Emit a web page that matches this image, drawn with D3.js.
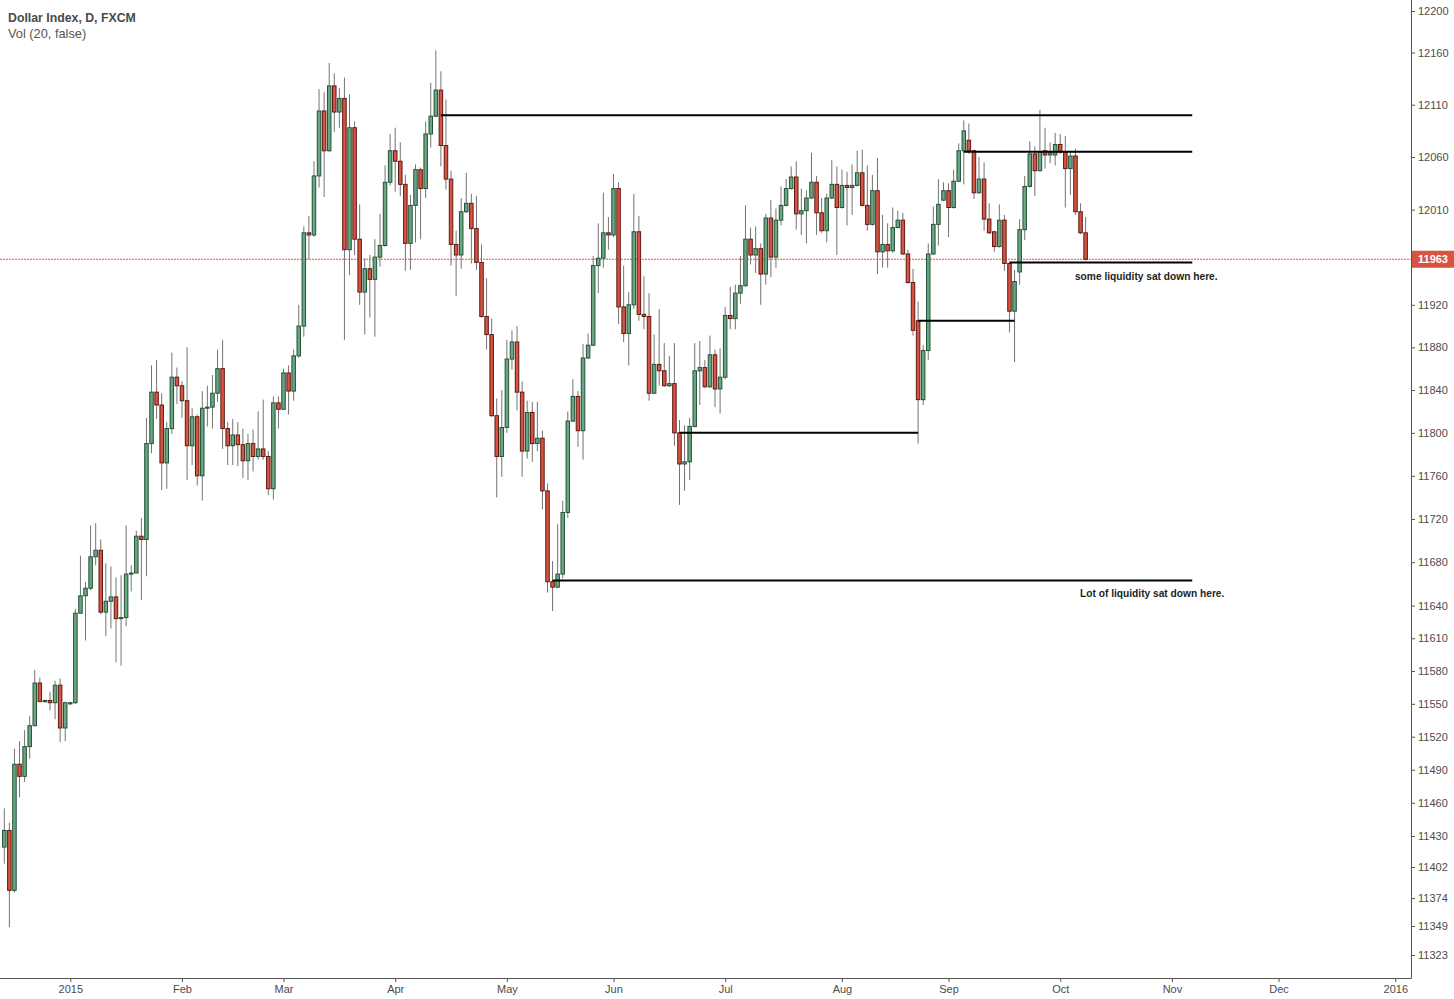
<!DOCTYPE html>
<html>
<head>
<meta charset="utf-8">
<title>Dollar Index, D, FXCM</title>
<script src="https://cdnjs.cloudflare.com/ajax/libs/d3/7.8.5/d3.min.js"></script>
<style>
  body { margin: 0; background: #fff; }
  text { font-family: "Liberation Sans", Arial, sans-serif; }
</style>
</head>
<body>
<svg id="chart" width="1454" height="999"></svg>
<script>
// daily bars, [open, high, low, close], mid Dec 2014 -> 8 Oct 2015
var ohlc = [
  [11420,11455,11405,11435],[11435,11442,11348,11381],[11381,11509,11379,11495],[11495,11516,11465,11484],
  [11484,11526,11479,11511],[11511,11539,11500,11530],[11530,11581,11530,11569],[11569,11574,11552,11552],
  [11552,11554,11551,11553],[11553,11561,11544,11551],[11551,11571,11536,11567],[11567,11573,11515,11528],
  [11528,11552,11516,11551],[11550,11552,11549,11551],[11551,11637,11550,11633],[11633,11686,11633,11649],
  [11649,11662,11608,11656],[11656,11714,11654,11685],[11685,11716,11677,11691],[11691,11701,11632,11634],
  [11634,11679,11612,11644],[11644,11676,11619,11648],[11648,11666,11588,11628],[11628,11668,11585,11629],
  [11629,11714,11621,11669],[11669,11677,11653,11670],[11670,11709,11670,11704],[11704,11721,11645,11701],
  [11701,11814,11667,11790],[11790,11863,11781,11838],[11838,11868,11813,11826],[11826,11837,11747,11772],
  [11772,11810,11748,11804],[11804,11875,11799,11852],[11852,11861,11827,11844],[11844,11848,11814,11830],
  [11830,11880,11756,11788],[11788,11823,11770,11815],[11815,11817,11751,11760],[11760,11839,11737,11823],
  [11823,11844,11806,11824],[11824,11854,11804,11837],[11837,11878,11829,11860],[11860,11887,11785,11804],
  [11804,11810,11770,11788],[11788,11813,11770,11798],[11798,11810,11769,11789],[11789,11804,11758,11774],
  [11774,11799,11756,11790],[11790,11803,11764,11778],[11778,11820,11775,11785],[11785,11831,11775,11778],
  [11778,11783,11742,11748],[11748,11834,11738,11828],[11828,11834,11804,11822],[11822,11860,11822,11856],
  [11856,11863,11817,11839],[11839,11878,11830,11872],[11872,11920,11870,11900],[11900,11994,11890,11988],
  [11988,12004,11963,11986],[11986,12056,11984,12042],[12042,12125,12031,12104],[12104,12122,12022,12066],
  [12066,12150,12065,12128],[12128,12140,12084,12103],[12103,12126,12088,12116],[12116,12136,11887,11972],
  [11972,12120,11948,12088],[12088,12094,11967,11982],[11982,12015,11920,11932],[11932,11964,11892,11954],
  [11954,11967,11908,11944],[11944,11982,11890,11965],[11965,12006,11956,11976],[11976,12052,11975,12036],
  [12036,12082,12033,12066],[12066,12088,12027,12056],[12056,12074,12023,12034],[12034,12043,11952,11978],
  [11978,12024,11953,12014],[12014,12053,11979,12048],[12048,12050,11982,12030],[12030,12094,12021,12082],
  [12082,12131,12069,12099],[12099,12162,12098,12124],[12124,12142,12051,12071],[12071,12115,12029,12039],
  [12039,12047,11957,11977],[11977,11990,11928,11967],[11967,12021,11954,12008],[12008,12045,12007,12016],
  [12016,12025,11959,11992],[11992,12023,11953,11960],[11960,11977,11908,11909],[11909,11945,11878,11892],
  [11892,11907,11815,11816],[11816,11832,11740,11778],[11778,11840,11759,11805],[11805,11887,11800,11869],
  [11869,11896,11859,11885],[11885,11900,11821,11838],[11838,11848,11759,11783],[11783,11830,11776,11819],
  [11819,11829,11773,11790],[11790,11829,11783,11795],[11795,11802,11729,11746],[11746,11753,11652,11662],
  [11662,11681,11635,11657],[11657,11715,11656,11669],[11669,11737,11665,11726],[11726,11820,11721,11811],
  [11811,11850,11810,11834],[11834,11839,11787,11802],[11802,11883,11775,11870],[11870,11893,11869,11882],
  [11882,11966,11881,11957],[11957,11997,11931,11964],[11964,12026,11955,11988],[11988,12003,11972,11986],
  [11986,12044,11984,12030],[12030,12036,11902,11918],[11918,11957,11885,11893],[11893,11932,11863,11920],
  [11920,12025,11916,11989],[11989,12004,11905,11911],[11911,11947,11897,11909],[11909,11931,11830,11837],
  [11837,11892,11836,11864],[11864,11916,11844,11858],[11858,11884,11843,11844],[11844,11872,11843,11846],
  [11846,11884,11788,11800],[11800,11812,11733,11771],[11771,11807,11746,11773],[11773,11814,11756,11806],
  [11806,11884,11805,11858],[11858,11886,11826,11861],[11861,11868,11842,11843],[11843,11891,11842,11873],
  [11873,11878,11824,11841],[11841,11879,11818,11852],[11852,11918,11850,11910],[11910,11937,11897,11907],
  [11907,11939,11897,11931],[11931,11966,11921,11938],[11938,12014,11937,11982],[11982,11993,11958,11967],
  [11967,11994,11950,11973],[11973,11978,11920,11949],[11949,12006,11939,12002],[12002,12019,11946,11965],
  [11965,12011,11955,12000],[12000,12032,11995,12014],[12014,12039,12013,12030],[12030,12051,12029,12041],
  [12041,12056,11991,12006],[12006,12030,11986,12009],[12009,12028,11978,12021],[12021,12064,12020,12036],
  [12036,12042,11986,12007],[12007,12021,11988,11990],[11990,12025,11979,12021],[12021,12057,12020,12034],
  [12034,12051,11967,12012],[12012,12048,12011,12033],[12033,12046,11995,12031],[12031,12053,12005,12033],
  [12033,12066,12032,12045],[12045,12067,12013,12014],[12014,12052,11990,11996],[11996,12043,11995,12028],
  [12028,12059,11949,11970],[11970,12005,11955,11977],[11977,11997,11955,11971],[11971,12012,11969,11993],
  [11993,12009,11992,12000],[12000,12007,11967,11968],[11968,11972,11940,11941],[11941,11954,11891,11896],
  [11905,11923,11790,11831],[11831,11882,11826,11877],[11877,11978,11868,11968],[11968,12013,11967,11996],
  [11996,12039,11976,12015],[12019,12036,12018,12028],[12028,12035,11984,12012],[12012,12048,12011,12037],
  [12037,12073,12036,12066],[12066,12095,12034,12085],[12076,12092,12063,12066],[12066,12067,12020,12026],
  [12026,12060,12025,12039],[12039,12055,11990,12001],[12001,12016,11987,11988],[11989,11990,11970,11975],
  [11975,12015,11974,12000],[12000,12005,11952,11959],[11959,11960,11894,11914],[11914,11953,11866,11942],
  [11951,12001,11939,11991],[11991,12042,11981,12032],[12032,12075,12031,12063],[12063,12070,12023,12047],
  [12047,12105,12046,12065],[12066,12088,12049,12062],[12062,12074,12054,12064],[12062,12083,12052,12072],
  [12072,12082,12063,12065],[12065,12080,12012,12049],[12049,12065,12024,12061],[12061,12068,12005,12008],
  [12008,12016,11987,11988],[11988,12003,11962,11963]
];

// x axis: label and bar number where each month starts
var monthLabels = ["2015", "Feb", "Mar", "Apr", "May", "Jun", "Jul", "Aug", "Sep", "Oct", "Nov", "Dec", "2016"];
var monthBars = [13, 35, 55, 77, 99, 120, 142, 165, 186, 208, 230, 251, 274];

var priceTicks = [12200, 12160, 12110, 12060, 12010, 11920, 11880, 11840, 11800, 11760, 11720, 11680,
  11640, 11610, 11580, 11550, 11520, 11490, 11460, 11430, 11402, 11374, 11349, 11323];
var lastPrice = 11963;

// horizontal levels drawn on the chart (price, first bar, last bar)
var levelPrices = [12100, 12065, 11960, 11905, 11800, 11663];
var levelFrom = [86, 189, 198, 180, 133, 108];
var levelTo = [234, 234, 234, 199, 180, 234];

var noteTexts = ["some liquidity sat down here.", "Lot of liquidity sat down here."];
var notePrices = [11947, 11651];
var noteBars = [210.9, 211.9];

var upFill = "#6ba583", upLine = "#225437";
var downFill = "#d75442", downLine = "#5b1a13";

drawChart();

function drawChart() {
  var svg = d3.select("#chart"),
    axisX = 1411,
    axisY = 978;

  var x = d3.scaleLinear().domain([0, 274]).range([4.3, 1395.3]);
  var y = d3.scaleLog().domain([11323, 12200]).range([955, 11]);

  // last price dashed line
  svg.append("line")
    .attr("x1", 0)
    .attr("x2", axisX)
    .attr("y1", y(lastPrice))
    .attr("y2", y(lastPrice))
    .attr("stroke", downFill)
    .attr("stroke-width", 1)
    .attr("stroke-dasharray", "2,1");

  var candles = svg.append("g")
    .attr("class", "candles")
    .selectAll("g")
    .data(ohlc)
    .enter()
    .append("g");

  candles.append("line")
    .attr("x1", function(d, i) { return x(i); })
    .attr("x2", function(d, i) { return x(i); })
    .attr("y1", function(d) { return y(d[1]); })
    .attr("y2", function(d) { return y(d[2]); })
    .attr("stroke", "#737375")
    .attr("stroke-width", 1);

  candles.append("rect")
    .attr("x", function(d, i) { return x(i) - 1.75; })
    .attr("width", 3.5)
    .attr("y", function(d) { return y(Math.max(d[0], d[3])); })
    .attr("height", function(d) {
      return Math.max(y(Math.min(d[0], d[3])) - y(Math.max(d[0], d[3])), 0.5);
    })
    .attr("fill", function(d) { return d[3] >= d[0] ? upFill : downFill; })
    .attr("stroke", function(d) { return d[3] >= d[0] ? upLine : downLine; })
    .attr("stroke-width", 1);

  // drawn levels
  svg.append("g")
    .attr("class", "levels")
    .selectAll("line")
    .data(levelPrices)
    .enter()
    .append("line")
    .attr("x1", function(d, i) { return x(levelFrom[i]); })
    .attr("x2", function(d, i) { return x(levelTo[i]); })
    .attr("y1", function(d) { return y(d); })
    .attr("y2", function(d) { return y(d); })
    .attr("stroke", "#000")
    .attr("stroke-width", 2);

  svg.append("g")
    .attr("class", "notes")
    .selectAll("text")
    .data(noteTexts)
    .enter()
    .append("text")
    .attr("x", function(d, i) { return x(noteBars[i]); })
    .attr("y", function(d, i) { return y(notePrices[i]); })
    .attr("dy", "0.35em")
    .attr("font-size", "10.2px")
    .attr("font-weight", "bold")
    .attr("fill", "#1e1e1e")
    .text(function(d) { return d; });

  // axes
  var right = svg.append("g")
    .attr("transform", "translate(" + axisX + ",0)")
    .call(d3.axisRight(y).tickValues(priceTicks).tickSize(4).tickFormat(d3.format("d")));

  var bottom = svg.append("g")
    .attr("transform", "translate(0," + axisY + ")")
    .call(d3.axisBottom(x).tickValues(monthBars).tickSize(4)
      .tickFormat(function(d, i) { return monthLabels[i]; }));

  [right, bottom].forEach(function(g) {
    g.select(".domain").remove();
    g.selectAll(".tick line").attr("stroke", "#555");
    g.selectAll(".tick text")
      .attr("fill", "#4c4c4c")
      .attr("font-size", "11px")
      .attr("font-family", "'Liberation Sans', Arial, sans-serif");
  });

  svg.append("line")
    .attr("x1", axisX + 0.5).attr("x2", axisX + 0.5)
    .attr("y1", 0).attr("y2", axisY + 0.5)
    .attr("stroke", "#555");
  svg.append("line")
    .attr("x1", 0).attr("x2", axisX + 0.5)
    .attr("y1", axisY + 0.5).attr("y2", axisY + 0.5)
    .attr("stroke", "#555");

  // last price label on the scale
  svg.append("rect")
    .attr("x", axisX + 1)
    .attr("y", y(lastPrice) - 8.5)
    .attr("width", 1454 - axisX - 1)
    .attr("height", 17)
    .attr("fill", downFill);
  svg.append("text")
    .attr("x", axisX + 7)
    .attr("y", y(lastPrice))
    .attr("dy", "0.35em")
    .attr("font-size", "11px")
    .attr("font-weight", "bold")
    .attr("fill", "#fff")
    .text(lastPrice);

  // legend
  svg.append("text")
    .attr("x", 8)
    .attr("y", 22)
    .attr("font-size", "12.3px")
    .attr("font-weight", "bold")
    .attr("fill", "#4a4a4a")
    .text("Dollar Index, D, FXCM");
  svg.append("text")
    .attr("x", 8)
    .attr("y", 38)
    .attr("font-size", "12.8px")
    .attr("fill", "#555")
    .text("Vol (20, false)");
}
</script>
</body>
</html>
